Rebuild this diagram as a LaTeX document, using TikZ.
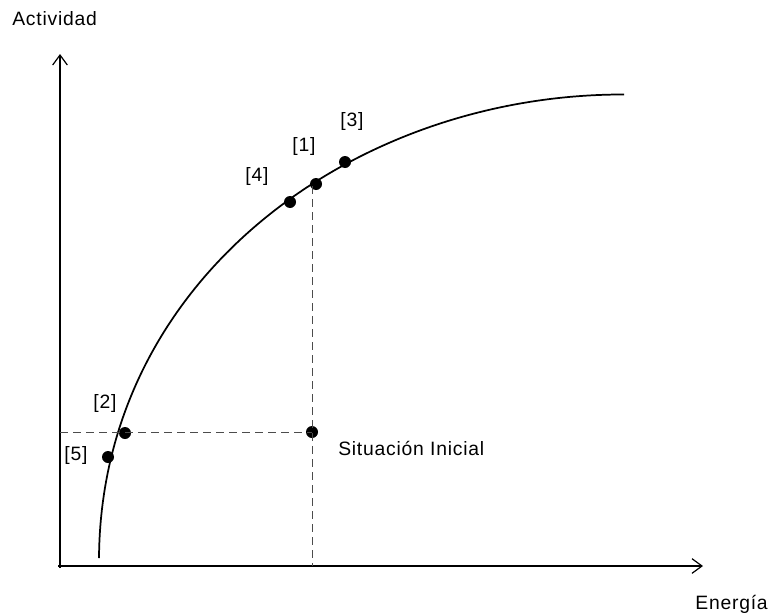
\documentclass[tikz,border=0pt]{standalone}
\usepackage{fontspec}
\setmainfont[LetterSpace=4]{Liberation Sans}
\usetikzlibrary{arrows.meta}
\begin{document}
\begin{tikzpicture}[x=0.75pt,y=-0.75pt,
  axis/.style={line width=0.9pt,-{Straight Barb[length=7.5pt,width=11pt,line width=0.9pt]}},
  curveline/.style={line width=1.3pt},
  guide/.style={line width=0.75pt,draw=black!70,dash pattern=on 6pt off 3.75pt},
  dot/.style={circle,fill=black,inner sep=0pt,minimum size=9pt},
  lbl/.style={inner sep=0pt,font=\fontsize{14.5}{17}\selectfont}]
\useasboundingbox (0,0) rectangle (771,614);
% axes
\coordinate (ytop) at (60,54);
\coordinate (ybot) at (60,568);
\coordinate (xl) at (58,566);
\coordinate (xend) at (703,566);
\draw[axis] (ybot) -- (ytop);
\draw[axis] (xl) -- (xend);
% curve
\coordinate (c0) at (99,558);
\coordinate (c3) at (624,94.5);
\draw[curveline] (c0) .. controls (101,278) and (355,94) .. (c3);
% dots
\node[dot] (d5) at (108,457) {};
\node[dot] (d2) at (125,433) {};
\node[dot] (d4) at (290,202) {};
\node[dot] (d1) at (316,184) {};
\node[dot] (d3) at (345,162) {};
\node[dot] (si) at (312,432) {};
% dashed guides
\coordinate (hl) at (60,432);
\coordinate (vt) at (312,186);
\coordinate (vb) at (312,566);
\draw[guide] (hl) -- (si.center);
\draw[guide] (vt) -- (vb);
% labels
\node[lbl] (l1) at (304,146) {[1]};
\node[lbl] (l3) at (352,122) {[3]};
\node[lbl] (l4) at (257,176) {[4]};
\node[lbl] (l2) at (105,403) {[2]};
\node[lbl] (l5) at (76,455) {[5]};
\node[lbl,anchor=base west] (lsi) at (338,455) {Situación Inicial};
\node[lbl,anchor=base west] (lact) at (12,26) {Actividad};
\node[lbl,anchor=base east] (lene) at (768,609) {Energía};
\end{tikzpicture}
\end{document}
